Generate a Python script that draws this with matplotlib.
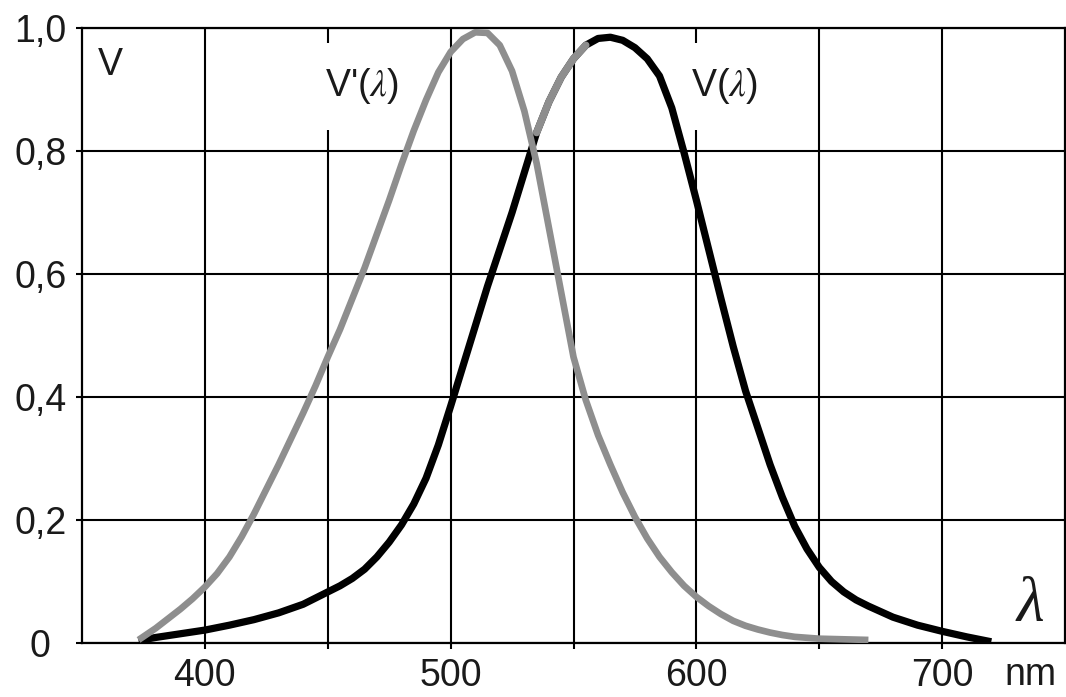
import numpy as np
import matplotlib
matplotlib.use('Agg')
import matplotlib.pyplot as plt

plt.rcParams['font.family'] = ['Liberation Sans', 'DejaVu Sans']
plt.rcParams['mathtext.fontset'] = 'stix'

# Scotopic curve V'(lambda) (grey)
scotopic_nm = [373, 380, 390, 395, 400, 405, 410, 415, 420, 425, 430, 435, 440, 445, 450,
               455, 460, 465, 470, 475, 480, 485, 490, 495, 500, 505, 510, 515, 520,
               525, 530, 535, 540, 545, 550, 555, 560, 565, 570, 575, 580, 585, 590,
               595, 600, 605, 610, 615, 620, 625, 630, 635, 640, 650, 660, 670]
scotopic_v = [0.005, 0.024, 0.055, 0.072, 0.091, 0.113, 0.14, 0.173, 0.21, 0.25, 0.29,
              0.332, 0.374, 0.418, 0.465, 0.51, 0.56, 0.61, 0.665, 0.72, 0.778, 0.833,
              0.883, 0.928, 0.961, 0.982, 0.993, 0.992, 0.972, 0.93, 0.865, 0.78, 0.675,
              0.57, 0.465, 0.395, 0.338, 0.29, 0.245, 0.205, 0.17, 0.14, 0.115, 0.093,
              0.075, 0.06, 0.047, 0.036, 0.028, 0.022, 0.017, 0.013, 0.010, 0.007,
              0.006, 0.005]

# Photopic curve V(lambda) (black)
photopic_nm = [373, 380, 390, 400, 410, 420, 430, 440, 450, 455, 460, 465, 470, 475,
               480, 485, 490, 495, 500, 505, 510, 515, 520, 525, 530, 535, 540, 545,
               550, 555, 560, 565, 570, 575, 580, 585, 590, 595, 600, 605, 610, 615,
               620, 625, 630, 635, 640, 645, 650, 655, 660, 665, 670, 680, 690, 700,
               710, 720]
photopic_v = [0.004, 0.009, 0.015, 0.021, 0.029, 0.038, 0.049, 0.063, 0.083, 0.093,
              0.105, 0.12, 0.14, 0.164, 0.192, 0.226, 0.268, 0.322, 0.385, 0.45, 0.515,
              0.58, 0.64, 0.70, 0.765, 0.83, 0.88, 0.92, 0.95, 0.972, 0.983, 0.985,
              0.98, 0.968, 0.95, 0.922, 0.87, 0.797, 0.72, 0.64, 0.56, 0.482, 0.41,
              0.35, 0.29, 0.237, 0.19, 0.153, 0.123, 0.10, 0.083, 0.07, 0.06, 0.042,
              0.029, 0.019, 0.010, 0.002]

# Part of the black curve that is painted over in grey in the original
overlay_nm_range = (531, 556)

x_ticks = [400, 450, 500, 550, 600, 650, 700]
x_tick_labels = ['400', '', '500', '', '600', '', '700']
y_ticks = [0, 0.2, 0.4, 0.6, 0.8, 1.0]
y_tick_labels = ['0', '0,2', '0,4', '0,6', '0,8', '1,0']

GREY = '#8e8e8e'
TXT = '#1a1a1a'
FS = 27

fig = plt.figure(figsize=(10.66, 6.97), dpi=100)
ax = fig.add_axes([82 / 1066, 54 / 697, 983 / 1066, 615 / 697])
ax.set_xlim(350, 750)
ax.set_ylim(0, 1.0)

ax.set_xticks(x_ticks)
ax.set_xticklabels(x_tick_labels)
ax.set_yticks(y_ticks)
ax.set_yticklabels(y_tick_labels)
ax.tick_params(axis='both', direction='out', length=4, width=1.5, colors='black',
               labelsize=FS, labelcolor=TXT)
ax.tick_params(axis='x', pad=7)
ax.tick_params(axis='y', pad=26)
for lab in ax.get_yticklabels():
    lab.set_horizontalalignment('center')

ax.grid(True, color='black', linewidth=1.5, zorder=0)
ax.set_axisbelow(True)
for s in ax.spines.values():
    s.set_linewidth(1.6)
    s.set_color('black')

pn = np.array(photopic_nm)
pv = np.array(photopic_v)
ax.plot(pn, pv, color='black', linewidth=5.2, solid_capstyle='butt',
        solid_joinstyle='round', zorder=3)
ax.plot(scotopic_nm, scotopic_v, color=GREY, linewidth=4.8, solid_capstyle='butt',
        solid_joinstyle='round', zorder=4)
mask = (pn >= overlay_nm_range[0]) & (pn <= overlay_nm_range[1])
ax.plot(pn[mask], pv[mask], color=GREY, linewidth=5.4, solid_capstyle='round',
        solid_joinstyle='round', zorder=4)

box = dict(facecolor='white', edgecolor='none', pad=17)
ax.text(361.5, 0.94, 'V', fontsize=FS, color=TXT, ha='center', va='center', zorder=2)
ax.text(463.8, 0.905, "V'($\\lambda$)", fontsize=FS, color=TXT, ha='center', va='center',
        bbox=box, zorder=2)
ax.text(611.4, 0.905, "V($\\lambda$)", fontsize=FS, color=TXT, ha='center', va='center',
        bbox=box, zorder=2)
ax.text(736.0, 0.06, 'λ', fontsize=46, family='Liberation Serif', style='italic',
        color=TXT, ha='center', va='center', zorder=2)
ax.text(735.8, -0.052, 'nm', fontsize=FS, color=TXT, ha='center', va='center',
        clip_on=False)

fig.savefig('out.png', dpi=100)
